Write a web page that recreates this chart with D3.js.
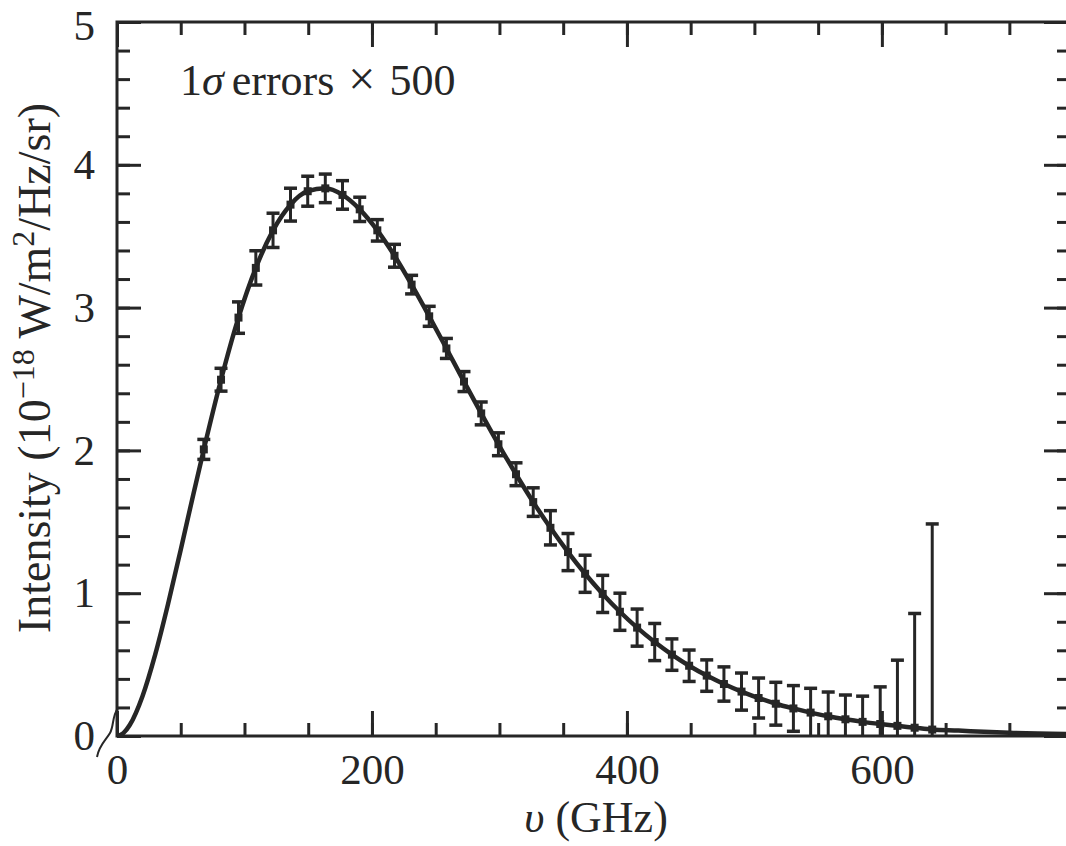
<!DOCTYPE html>
<html>
<head>
<meta charset="utf-8">
<script src="https://cdn.jsdelivr.net/npm/d3@7"></script>
<style>
  html, body { margin: 0; padding: 0; background: #ffffff; }
  svg { display: block; }
  text { font-family: "Liberation Serif", "Times New Roman", serif; fill: #262626; }
</style>
</head>
<body>
<svg id="chart" width="1066" height="846"></svg>
<script>
// FIRAS spectrum points, frequency in GHz, intensity in 10^-18 W/m2/Hz/sr
const freqs = [68.1, 81.6, 95.3, 108.9, 122.4, 136.1, 149.6, 163.4, 176.9, 190.4,
               204.2, 217.7, 231.1, 244.9, 258.4, 272.2, 285.7, 299.2, 313.0, 326.5,
               340.0, 353.8, 367.2, 381.0, 394.5, 408.0, 421.8, 435.3, 448.8, 462.6,
               476.1, 489.9, 503.3, 516.8, 530.6, 544.1, 557.9, 571.4, 584.9, 598.7,
               612.2, 625.7, 639.5];
const intensity = [2.007, 2.495, 2.930, 3.278, 3.541, 3.721, 3.815, 3.835, 3.789, 3.688,
                   3.541, 3.363, 3.161, 2.939, 2.714, 2.482, 2.259, 2.043, 1.833, 1.638,
                   1.458, 1.288, 1.136, 0.995, 0.870, 0.759, 0.658, 0.570, 0.492, 0.423,
                   0.364, 0.311, 0.266, 0.226, 0.193, 0.164, 0.138, 0.117, 0.099, 0.084,
                   0.071, 0.058, 0.045];
// 1 sigma errors, already multiplied by 500
const errors = [0.07, 0.08, 0.11, 0.12, 0.12, 0.115, 0.105, 0.10, 0.10, 0.085,
                0.075, 0.08, 0.065, 0.07, 0.07, 0.07, 0.08, 0.08, 0.08, 0.10,
                0.12, 0.13, 0.13, 0.13, 0.13, 0.13, 0.13, 0.11, 0.11, 0.11,
                0.12, 0.13, 0.14, 0.15, 0.16, 0.17, 0.17, 0.17, 0.18, 0.26,
                0.46, 0.80, 1.44];

const fitLowFreq = [0, 5, 10, 20, 30, 40, 50, 60];
const fitLowVal  = [0, 0.020, 0.077, 0.279, 0.572, 0.923, 1.305, 1.697];
const fitHighFreq = [660, 680, 700, 746];
const fitHighVal  = [0.038, 0.029, 0.022, 0.013];

const xMajor = [0, 200, 400, 600];
const xMinor = d3.range(0, 746, 50);
const yMajor = [0, 1, 2, 3, 4, 5];
const yMinor = d3.range(0, 5.01, 0.2);

const ink = "#262626";

let svg = d3.select("#chart");

svg.append("rect")
   .attr("width", 1066)
   .attr("height", 846)
   .attr("fill", "#ffffff");

let x = d3.scaleLinear().domain([0, 746]).range([117, 1068]);
let y = d3.scaleLinear().domain([0, 5]).range([736, 22]);

// clip to the plotting frame
svg.append("clipPath")
   .attr("id", "plotclip")
   .append("rect")
   .attr("x", 117).attr("y", 22)
   .attr("width", 951).attr("height", 714);

/* - - - - - - - - - - - - - - - - - - - - - - - - - -
 * Axes: ticks point into the frame on all four sides
 * - - - - - - - - - - - - - - - - - - - - - - - - - -
 */
function styleAxis(g){
    g.select(".domain").remove();
    g.selectAll("line").attr("stroke", ink).attr("stroke-width", 3);
    g.selectAll("text")
     .attr("font-size", 43)
     .attr("fill", ink);
}

// bottom
svg.append("g")
   .attr("transform", "translate(0," + y(0) + ")")
   .call(d3.axisBottom(x).tickValues(xMinor).tickSize(-13).tickFormat(""))
   .call(styleAxis);
svg.append("g")
   .attr("transform", "translate(0," + y(0) + ")")
   .call(d3.axisBottom(x).tickValues(xMajor).tickSize(-25).tickPadding(17))
   .call(styleAxis);

// top
svg.append("g")
   .attr("transform", "translate(0," + y(5) + ")")
   .call(d3.axisTop(x).tickValues(xMinor).tickSize(-13).tickFormat(""))
   .call(styleAxis);
svg.append("g")
   .attr("transform", "translate(0," + y(5) + ")")
   .call(d3.axisTop(x).tickValues(xMajor).tickSize(-25).tickFormat(""))
   .call(styleAxis);

// left
svg.append("g")
   .attr("transform", "translate(" + x(0) + ",0)")
   .call(d3.axisLeft(y).tickValues(yMinor).tickSize(-13).tickFormat(""))
   .call(styleAxis);
let yLabels = svg.append("g")
   .attr("transform", "translate(" + x(0) + ",0)")
   .call(d3.axisLeft(y).tickValues(yMajor).tickSize(-24).tickPadding(22).tickFormat(d3.format("d")))
   .call(styleAxis);
// the top label sits right at the picture edge, nudge it down a little
yLabels.selectAll("text")
   .filter(function(d){ return d === 5; })
   .attr("y", 4);

// right (frame edge sits just outside the picture)
svg.append("g")
   .attr("transform", "translate(" + x(746) + ",0)")
   .call(d3.axisRight(y).tickValues(yMinor).tickSize(-11).tickFormat(""))
   .call(styleAxis);
svg.append("g")
   .attr("transform", "translate(" + x(746) + ",0)")
   .call(d3.axisRight(y).tickValues(yMajor).tickSize(-24).tickFormat(""))
   .call(styleAxis);

// frame lines
svg.append("path")
   .attr("d", "M" + x(746) + "," + y(5) + "H" + x(0) + "V" + y(0) + "H" + x(746))
   .attr("fill", "none")
   .attr("stroke", ink)
   .attr("stroke-width", 3);

// axis break mark at the origin
svg.append("path")
   .attr("d", "M97,757 C99,745 106,740 110,733 C114,726 112,716 118,708")
   .attr("fill", "none")
   .attr("stroke", ink)
   .attr("stroke-width", 2);

/* - - - - - - - - - - - - - - - - - - - - - - - - - -
 * Data
 * - - - - - - - - - - - - - - - - - - - - - - - - - -
 */
let plot = svg.append("g").attr("clip-path", "url(#plotclip)");

let pts = freqs.map(function(f, i){
    return {f: f, v: intensity[i], e: errors[i]};
});

let curvePts = fitLowFreq.map(function(f, i){ return [f, fitLowVal[i]]; })
    .concat(pts.map(function(d){ return [d.f, d.v]; }))
    .concat(fitHighFreq.map(function(f, i){ return [f, fitHighVal[i]]; }));

plot.append("path")
    .datum(curvePts)
    .attr("d", d3.line()
                 .x(function(d){ return x(d[0]); })
                 .y(function(d){ return y(d[1]); })
                 .curve(d3.curveMonotoneX))
    .attr("fill", "none")
    .attr("stroke", ink)
    .attr("stroke-width", 4.5);

// error bars
let bars = plot.selectAll("g.err")
    .data(pts)
    .enter()
    .append("g")
    .attr("class", "err");

bars.append("line")
    .attr("x1", function(d){ return x(d.f); })
    .attr("x2", function(d){ return x(d.f); })
    .attr("y1", function(d){ return y(d.v + d.e); })
    .attr("y2", function(d){ return y(d.v - d.e); })
    .attr("stroke", ink)
    .attr("stroke-width", 3);

bars.append("line")
    .attr("x1", function(d){ return x(d.f) - 6.5; })
    .attr("x2", function(d){ return x(d.f) + 6.5; })
    .attr("y1", function(d){ return y(d.v + d.e); })
    .attr("y2", function(d){ return y(d.v + d.e); })
    .attr("stroke", ink)
    .attr("stroke-width", 3.5);

bars.append("line")
    .attr("x1", function(d){ return x(d.f) - 6.5; })
    .attr("x2", function(d){ return x(d.f) + 6.5; })
    .attr("y1", function(d){ return y(d.v - d.e); })
    .attr("y2", function(d){ return y(d.v - d.e); })
    .attr("stroke", ink)
    .attr("stroke-width", 3.5);

// data points
plot.selectAll("rect.pt")
    .data(pts)
    .enter()
    .append("rect")
    .attr("class", "pt")
    .attr("x", function(d){ return x(d.f) - 4; })
    .attr("y", function(d){ return y(d.v) - 4; })
    .attr("width", 8)
    .attr("height", 8)
    .attr("fill", ink);

/* - - - - - - - - - - - - - - - - - - - - - - - - - -
 * Labels
 * - - - - - - - - - - - - - - - - - - - - - - - - - -
 */
let note = svg.append("text")
    .attr("x", 180)
    .attr("y", 95)
    .attr("font-size", 44);
note.append("tspan").text("1");
note.append("tspan").attr("font-style", "italic").text("σ");
note.append("tspan").attr("dx", 8).text("errors");
note.append("tspan").attr("dx", 14).attr("font-size", 48).text("×");
note.append("tspan").attr("dx", 14).text("500");

let xTitle = svg.append("text")
    .attr("x", 596)
    .attr("y", 832)
    .attr("text-anchor", "middle")
    .attr("font-size", 44);
xTitle.append("tspan").attr("font-style", "italic").text("υ");
xTitle.append("tspan").text(" (GHz)");

let yTitle = svg.append("text")
    .attr("transform", "translate(50,368) rotate(-90)")
    .attr("text-anchor", "middle")
    .attr("font-size", 46);
yTitle.append("tspan").text("Intensity (10");
yTitle.append("tspan").attr("font-size", 32).attr("dy", -16).text("−18");
yTitle.append("tspan").attr("dy", 16).text(" W/m");
yTitle.append("tspan").attr("font-size", 32).attr("dy", -16).text("2");
yTitle.append("tspan").attr("dy", 16).text("/Hz/sr)");
</script>
</body>
</html>
